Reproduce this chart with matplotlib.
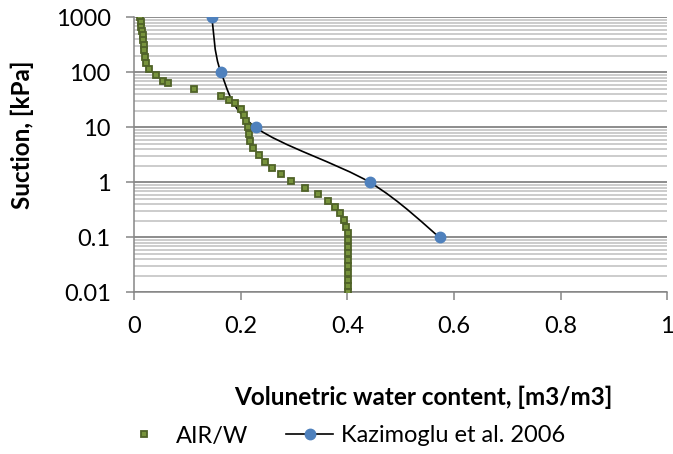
import numpy as np
import matplotlib
matplotlib.use("Agg")
import matplotlib.pyplot as plt
from matplotlib.path import Path
from matplotlib.patches import PathPatch
from matplotlib.lines import Line2D
from matplotlib.ticker import LogLocator, FixedLocator, NullFormatter

plt.rcParams["font.family"] = ["Lato", "DejaVu Sans"]

# AIR/W model (volumetric water content vs suction)
airw_theta = [0.012, 0.013, 0.014, 0.015, 0.016, 0.017, 0.018, 0.019, 0.020, 0.023,
              0.029, 0.041, 0.054, 0.064, 0.112, 0.163, 0.179, 0.189, 0.200, 0.206,
              0.210, 0.213, 0.215, 0.218, 0.224, 0.234, 0.246, 0.258, 0.275, 0.294,
              0.321, 0.345, 0.364, 0.377, 0.386, 0.393, 0.398, 0.401, 0.402, 0.402,
              0.402, 0.402, 0.401, 0.401, 0.401, 0.401, 0.401]
airw_suction = [1000, 811, 674, 571, 477, 387, 313, 254, 192, 150,
                113, 88, 70, 65, 50, 37, 32, 28, 21.6, 17,
                13.2, 10, 7.4, 5.6, 4.15, 3.1, 2.37, 1.82, 1.40, 1.06,
                0.80, 0.61, 0.457, 0.351, 0.273, 0.206, 0.157, 0.118, 0.089, 0.067,
                0.051, 0.039, 0.030, 0.0227, 0.0169, 0.013, 0.01]

# Kazimoglu et al. 2006 measured points
kaz_theta = [0.146, 0.163, 0.228, 0.442, 0.573]
kaz_suction = [1000, 100, 10, 1, 0.1]

x_ticks = [0, 0.2, 0.4, 0.6, 0.8, 1]
x_ticklabels = ["0", "0.2", "0.4", "0.6", "0.8", "1"]
y_ticks = [0.01, 0.1, 1, 10, 100, 1000]
y_ticklabels = ["0.01", "0.1", "1", "10", "100", "1000"]

fig = plt.figure(figsize=(6.73, 4.54), dpi=100)
ax = fig.add_axes([134 / 673, 1 - 292.3 / 454, 533.3 / 673, 275 / 454])
ax.set_yscale("log")
ax.set_xlim(0, 1)
ax.set_ylim(0.01, 1000)

# gridlines (horizontal only, like Excel)
ax.yaxis.set_minor_locator(LogLocator(base=10, subs=np.arange(2, 10)))
ax.yaxis.set_minor_formatter(NullFormatter())
ax.grid(True, which="minor", axis="y", color="#bfbfbf", linewidth=1.1)
ax.grid(True, which="major", axis="y", color="#8c8c8c", linewidth=1.4)
ax.set_axisbelow(True)

# smoothed line through the measured points (Excel style Catmull-Rom bezier)
sx, sy = 533.3, 55.0  # pixels per unit / per decade, so the smoothing is done in screen space
P = np.column_stack([np.array(kaz_theta) * sx, np.log10(kaz_suction) * sy])
verts = [P[0]]
codes = [Path.MOVETO]
n = len(P)
for i in range(n - 1):
    p0 = P[i - 1] if i > 0 else P[i]
    p3 = P[i + 2] if i + 2 < n else P[i + 1]
    c1 = P[i] + (P[i + 1] - p0) / 6
    c2 = P[i + 1] - (p3 - P[i]) / 6
    verts += [c1, c2, P[i + 1]]
    codes += [Path.CURVE4] * 3
verts = np.array(verts)
verts = np.column_stack([verts[:, 0] / sx, 10 ** (verts[:, 1] / sy)])
ax.add_patch(PathPatch(Path(verts, codes), facecolor="none", edgecolor="black",
                       linewidth=1.2, zorder=3))

ax.plot(airw_theta, airw_suction, linestyle="none", marker="s", markersize=5,
        markerfacecolor="#77933c", markeredgecolor="#4f6228", markeredgewidth=1.3, zorder=4)
ax.plot(kaz_theta, kaz_suction, linestyle="none", marker="o", markersize=7.5,
        markerfacecolor="#4f81bd", markeredgecolor="#4f81bd", zorder=5)

ax.xaxis.set_major_locator(FixedLocator(x_ticks))
ax.set_xticklabels(x_ticklabels)
ax.yaxis.set_major_locator(FixedLocator(y_ticks))
ax.set_yticklabels(y_ticklabels)
ax.tick_params(axis="both", which="major", direction="out", length=5.8, width=1.1,
               color="#868686", labelsize=17, labelcolor="black", pad=11)
ax.tick_params(axis="y", which="minor", length=0)

for side in ["top", "right"]:
    ax.spines[side].set_visible(False)
for side in ["left", "bottom"]:
    ax.spines[side].set_color("#868686")
    ax.spines[side].set_linewidth(1.1)

fig.text(22 / 673, 1 - 135 / 454, "Suction, [kPa]", rotation=90, ha="center", va="center",
         fontsize=17.5, fontweight="bold")
fig.text(423 / 673, 1 - 397 / 454, "Volunetric water content, [m3/m3]", ha="center",
         va="center", fontsize=17.5, fontweight="bold")

handles = [
    Line2D([], [], linestyle="none", marker="s", markersize=5,
           markerfacecolor="#77933c", markeredgecolor="#4f6228", markeredgewidth=1.3),
    Line2D([], [], color="black", linewidth=1.2, marker="o", markersize=7.5,
           markerfacecolor="#4f81bd", markeredgecolor="#4f81bd"),
]
fig.legend(handles, ["AIR/W", "Kazimoglu et al. 2006"], loc="center",
           bbox_to_anchor=(343 / 673, 1 - 436 / 454), ncol=2, frameon=False,
           fontsize=17, handlelength=2.0, columnspacing=1.6, handletextpad=0.35)

fig.savefig("out.png", dpi=100)
